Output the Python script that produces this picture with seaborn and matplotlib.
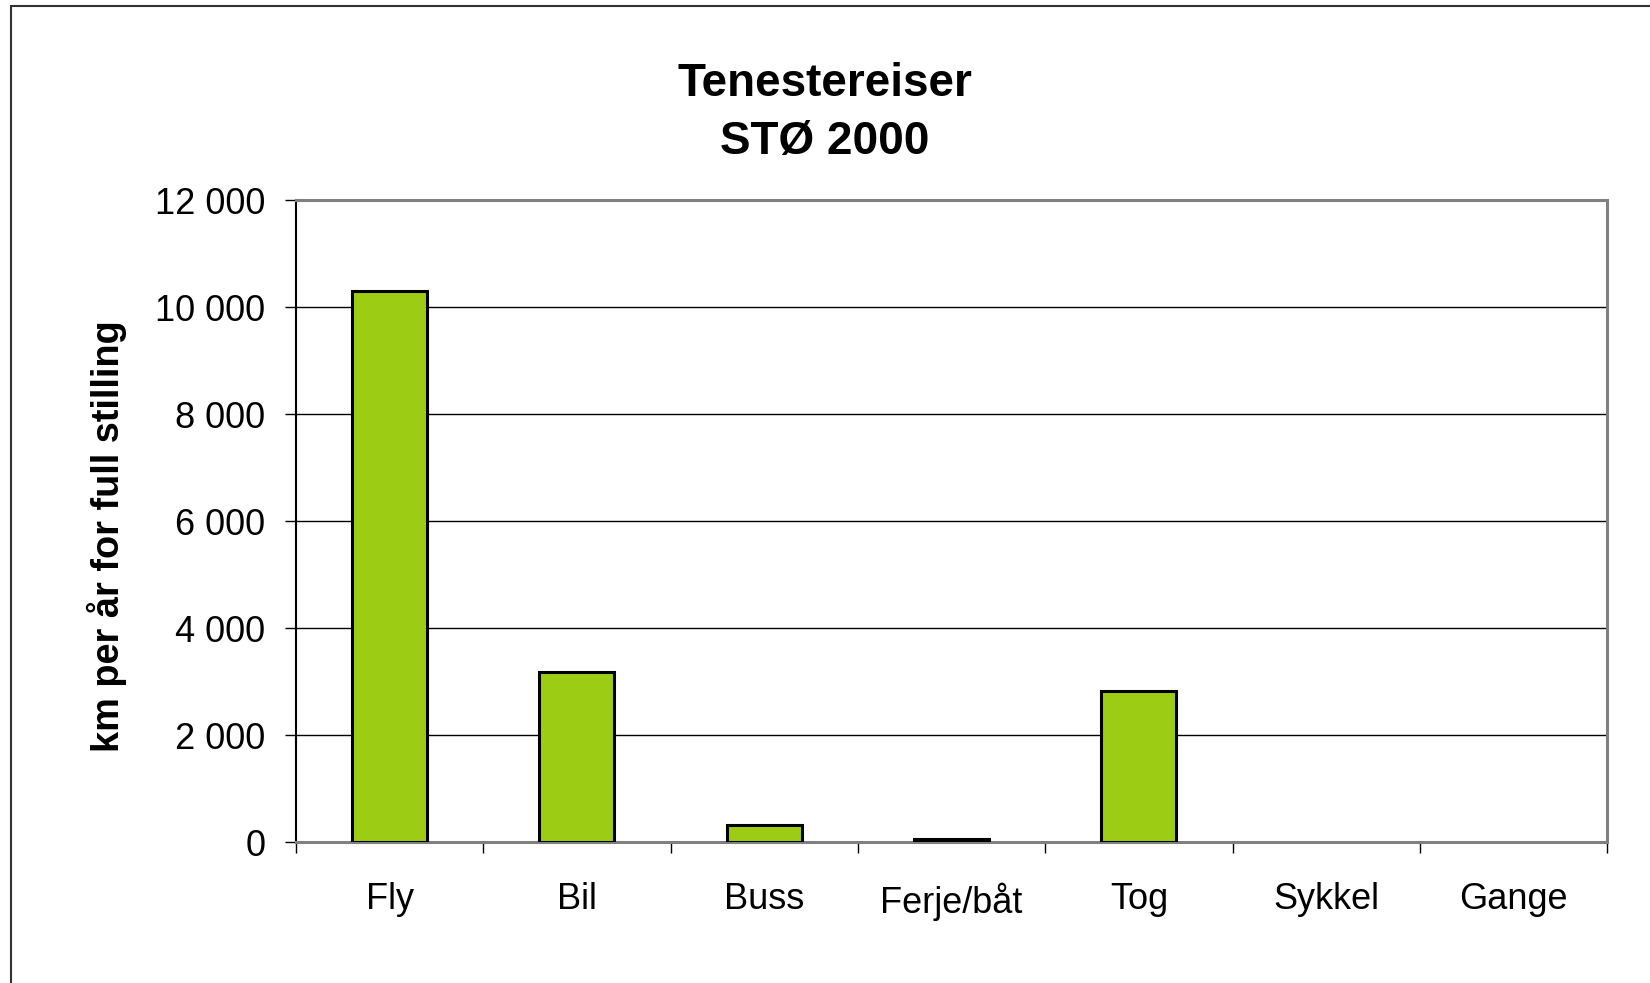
import matplotlib
matplotlib.use("Agg")
import matplotlib.pyplot as plt
import matplotlib.ticker as mticker
from matplotlib.lines import Line2D
import seaborn as sns
import pandas as pd

# data
categories = ["Fly", "Bil", "Buss", "Ferje/båt", "Tog", "Sykkel", "Gange"]
km_values = [10300, 3170, 310, 60, 2830, 0, 0]
y_ticks = [0, 2000, 4000, 6000, 8000, 10000, 12000]

title = "Tenestereiser\nSTØ 2000"
y_label = "km per år for full stilling"

sns.set_style("white", {"text.color": "black", "xtick.color": "black",
                        "ytick.color": "black", "axes.labelcolor": "black"})
plt.rcParams["font.family"] = ["Liberation Sans", "DejaVu Sans"]

df = pd.DataFrame({"kategori": categories, "km": km_values})

fig = plt.figure(figsize=(16.5, 9.83), dpi=100)
ax = fig.add_axes([0.1794, 0.1434, 0.7946, 0.6531])

sns.barplot(data=df, x="kategori", y="km", ax=ax, color="#9ccc14",
            saturation=1, width=0.4, edgecolor="black", linewidth=2.2, zorder=3)

# Excel draws nothing for zero values
for bar, v in zip(ax.patches, km_values):
    if v == 0:
        bar.set_visible(False)

ax.set_ylim(0, 12000)
ax.set_xlim(-0.5, len(categories) - 0.5)
ax.set_yticks(y_ticks)
ax.yaxis.set_major_formatter(mticker.FuncFormatter(lambda v, p: f"{int(v):,}".replace(",", " ")))
ax.grid(axis="y", color="black", linewidth=1.0, zorder=0)
ax.set_axisbelow(True)

# x ticks at category boundaries, labels in centres
ax.set_xticks([i + 0.5 for i in range(-1, len(categories))])
ax.set_xticklabels([])
ax.set_xticks(range(len(categories)), minor=True)
ax.set_xticklabels(categories, minor=True)
ax.tick_params(axis="x", which="major", direction="out", length=8, width=1, color="black", bottom=True)
ax.tick_params(axis="x", which="minor", length=0, pad=29, labelsize=26, labelcolor="black")
ax.tick_params(axis="y", direction="out", length=8, width=1, color="black", left=True, pad=14,
               labelsize=26, labelcolor="black")

ax.set_xlabel("")
ax.set_ylabel(y_label, fontsize=27.3, fontweight="bold", labelpad=20, color="black", y=0.477)

for side in ["top", "right", "bottom"]:
    ax.spines[side].set_color("#808080")
    ax.spines[side].set_linewidth(2.2)
ax.spines["left"].set_color("black")
ax.spines["left"].set_linewidth(1.5)

fig.text(0.5, 0.885, title, ha="center", va="center", fontsize=33, fontweight="bold",
         linespacing=1.43, color="black")

# outer chart frame (left and top edges visible)
fig.add_artist(Line2D([11 / 1650, 11 / 1650], [0, 1 - 6 / 983], color="#333333", linewidth=1.5))
fig.add_artist(Line2D([11 / 1650, 1], [1 - 6 / 983, 1 - 6 / 983], color="#333333", linewidth=1.5))

fig.savefig("out.png", dpi=100, facecolor="white")
